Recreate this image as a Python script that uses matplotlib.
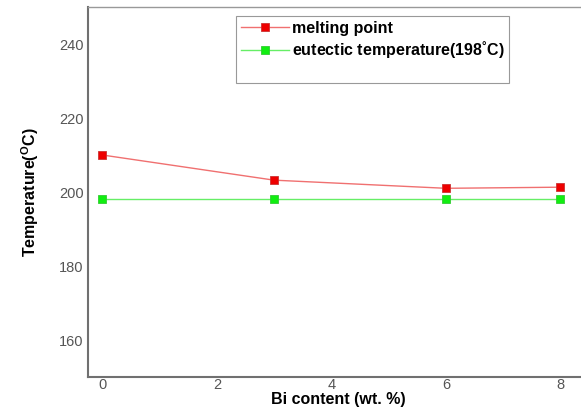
import numpy as np
import matplotlib
matplotlib.use('Agg')
import matplotlib.pyplot as plt
from matplotlib.lines import Line2D

plt.rcParams['font.family'] = ['Liberation Sans', 'DejaVu Sans']
plt.rcParams['mathtext.fontset'] = 'custom'
plt.rcParams['mathtext.rm'] = 'Liberation Sans:bold'
plt.rcParams['mathtext.bf'] = 'Liberation Sans:bold'

bi_content = [0, 3, 6, 8]
melting_point = [210, 203.2, 201, 201.3]
eutectic = [198, 198, 198, 198]
xticks = [0, 2, 4, 6, 8]
yticks = [160, 180, 200, 220, 240]

fig = plt.figure(figsize=(5.81, 4.08), dpi=100)
ax = fig.add_axes([88/581, 31/408, 501/581, 370/408])

l1, = ax.plot(bi_content, melting_point, color='#f07070', lw=1,
              marker='s', ms=6, mfc='#ee0000', mec='#cc3333', mew=0.6,
              label='melting point')
l2, = ax.plot(bi_content, eutectic, color='#66ee66', lw=1,
              marker='s', ms=6, mfc='#11ee11', mec='#33cc33', mew=0.6,
              label='eutectic temperature(198°C)')
blank = Line2D([], [], color='none')

ax.set_xlim(-0.25, 8.5)
ax.set_ylim(150, 250)
ax.set_xticks(xticks)
ax.set_yticks(yticks)
ax.tick_params(length=0, labelsize=10.5, labelcolor='#555555', pad=3)
ax.tick_params(axis='x', pad=1)

for s in ['left', 'bottom']:
    ax.spines[s].set_color('#707070')
    ax.spines[s].set_linewidth(1.5)
ax.spines['top'].set_color('#999999')
ax.spines['top'].set_linewidth(1)
ax.spines['right'].set_visible(False)

ax.set_xlabel('Bi content (wt. %)', fontsize=11.5, fontweight='bold', labelpad=0)
ax.set_ylabel(r'Temperature($^{\mathrm{O}}$C)', fontsize=11.5, fontweight='bold', labelpad=13)

leg = ax.legend([l1, l2, blank],
                ['melting point', r'eutectic temperature(198$^{\mathrm{°}}$C)', ' '],
                loc='upper left', bbox_to_anchor=((236-88)/501, 1 - 9/370),
                prop={'weight': 'bold', 'size': 11.5}, fancybox=False,
                framealpha=1, edgecolor='#999999', borderpad=0.3,
                handlelength=3.0, handletextpad=0.2, labelspacing=0.15,
                borderaxespad=0)
leg.get_frame().set_linewidth(0.8)

fig.savefig('out.png', dpi=100)
